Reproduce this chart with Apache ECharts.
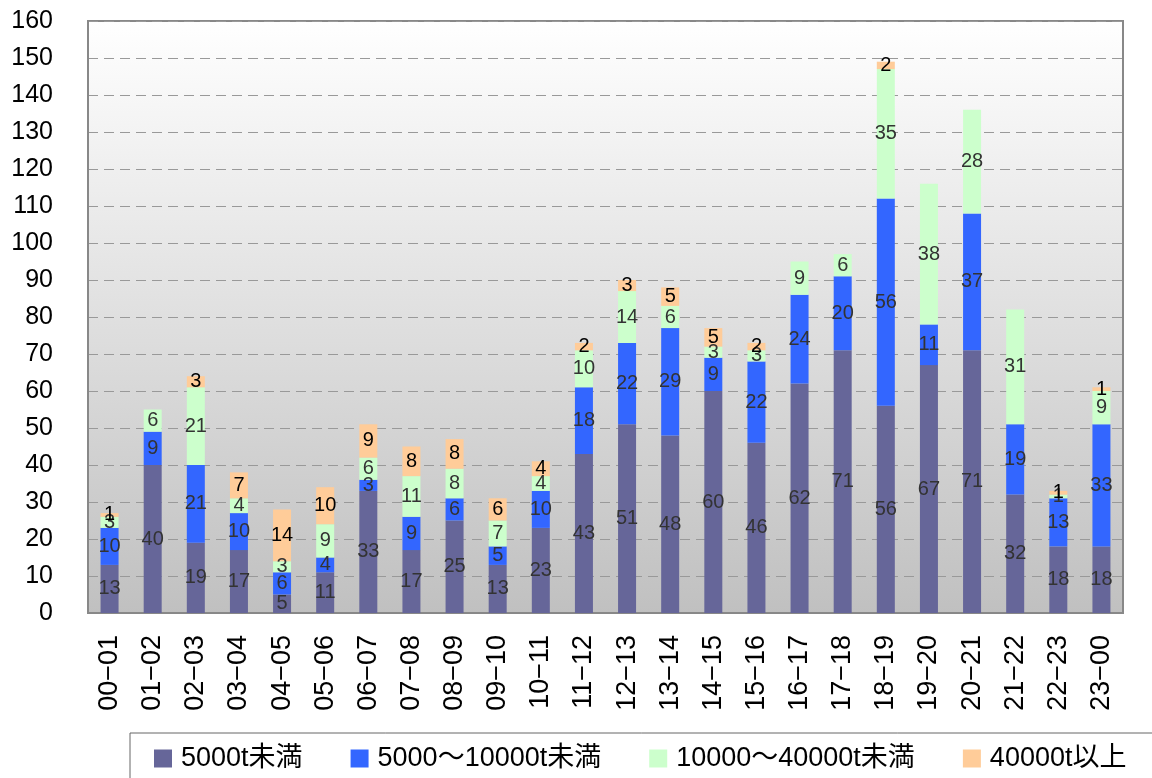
<!DOCTYPE html>
<html>
<head>
<meta charset="utf-8">
<script src="https://cdn.jsdelivr.net/npm/echarts@6/dist/echarts.min.js"></script>
<style>
  html, body { margin: 0; padding: 0; background: #fff; }
  #chart { width: 1152px; height: 778px; }
</style>
</head>
<body>
<div id="chart"></div>
<script>
// 時間帯
const hours = ["00−01", "01−02", "02−03", "03−04", "04−05", "05−06", "06−07", "07−08",
  "08−09", "09−10", "10−11", "11−12", "12−13", "13−14", "14−15", "15−16",
  "16−17", "17−18", "18−19", "19−20", "20−21", "21−22", "22−23", "23−00"];
const seriesNames = ["5000t未満", "5000～10000t未満", "10000～40000t未満", "40000t以上"];
const under5000 = [13, 40, 19, 17, 5, 11, 33, 17, 25, 13, 23, 43, 51, 48, 60, 46, 62, 71, 56, 67, 71, 32, 18, 18];
const from5000 = [10, 9, 21, 10, 6, 4, 3, 9, 6, 5, 10, 18, 22, 29, 9, 22, 24, 20, 56, 11, 37, 19, 13, 33];
const from10000 = [3, 6, 21, 4, 3, 9, 6, 11, 8, 7, 4, 10, 14, 6, 3, 3, 9, 6, 35, 38, 28, 31, 1, 9];
const over40000 = [1, 0, 3, 7, 14, 10, 9, 8, 8, 6, 4, 2, 3, 5, 5, 2, 0, 0, 2, 0, 0, 0, 1, 1];

const FONT = "'Liberation Sans', 'Noto Sans CJK JP', sans-serif";
const colors = ["#666699", "#3366ff", "#ccffcc", "#ffcc99"];
const labelColors = ["#333", "#333", "#333", "#000"];
const values = [under5000, from5000, from10000, over40000];

const chart = echarts.init(document.getElementById("chart"));

const series = seriesNames.map(function (name, i) {
  return {
    name: name,
    type: "bar",
    stack: "total",
    barWidth: 18,
    data: values[i],
    itemStyle: { color: colors[i] },
    label: {
      show: true,
      position: "inside",
      color: labelColors[i],
      fontFamily: FONT,
      fontSize: 20,
      // 0件は表示しない
      formatter: function (p) { return p.value ? String(p.value) : ""; }
    }
  };
});

chart.setOption({
  animation: false,
  textStyle: { fontFamily: FONT },
  grid: {
    left: 88, right: 29, top: 21, bottom: 165,
    show: true,
    borderColor: "#888",
    borderWidth: 2,
    backgroundColor: new echarts.graphic.LinearGradient(0, 0, 0, 1, [
      { offset: 0, color: "#ffffff" },
      { offset: 1, color: "#c0c0c0" }
    ])
  },
  legend: {
    bottom: -16,
    left: 130,
    width: 1100,
    padding: [12, 60, 22, 24],
    borderColor: "#666",
    borderWidth: 1,
    itemGap: 48,
    itemWidth: 18,
    itemHeight: 18,
    icon: "rect",
    textStyle: { fontSize: 27, color: "#000", fontFamily: FONT, padding: [0, 0, 0, 4] },
    data: seriesNames
  },
  xAxis: {
    type: "category",
    data: hours,
    axisLine: { lineStyle: { color: "#888", width: 2 } },
    axisTick: { inside: true, length: 8, lineStyle: { color: "#888" } },
    axisLabel: {
      rotate: 90,
      margin: 22,
      interval: 0,
      color: "#000",
      fontSize: 27,
      fontFamily: FONT
    }
  },
  yAxis: {
    type: "value",
    min: 0,
    max: 160,
    interval: 10,
    axisLine: { show: true, lineStyle: { color: "#888", width: 2 } },
    axisLabel: { color: "#000", fontSize: 25, margin: 35, fontFamily: FONT },
    splitLine: { lineStyle: { color: "#999", type: [10, 6] } }
  },
  series: series
});
</script>
</body>
</html>
